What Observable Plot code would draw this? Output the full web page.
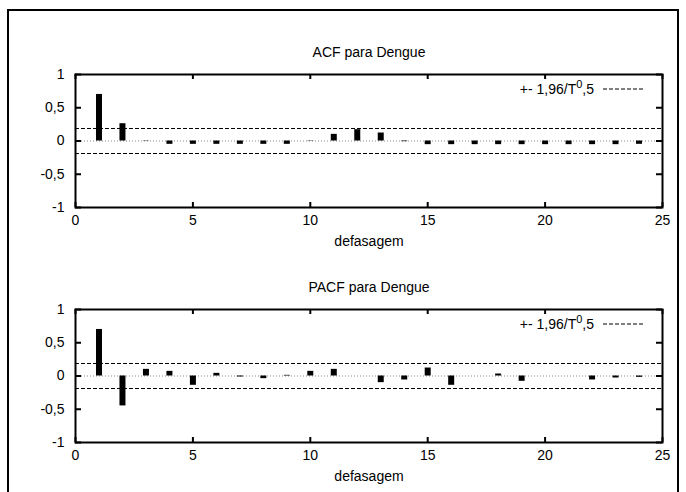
<!DOCTYPE html>
<html>
<head>
<meta charset="utf-8">
<script src="https://cdn.jsdelivr.net/npm/d3@7"></script>
<script src="https://cdn.jsdelivr.net/npm/@observablehq/plot@0.6"></script>
<style>
  html, body { margin: 0; padding: 0; background: #fff; overflow: hidden; }
  #wrap { position: relative; width: 686px; height: 492px; overflow: hidden; background: #fff; }
  #border { position: absolute; left: 7px; top: 9px; width: 672px; height: 520px; border: 2px solid #000; box-sizing: border-box; }
  .panel { position: absolute; left: 0; }
</style>
</head>
<body>
<div id="wrap"><div id="border"></div></div>
<script>
// ---- data ----
const lags = [1,2,3,4,5,6,7,8,9,10,11,12,13,14,15,16,17,18,19,20,21,22,23,24];
const acfValues = [0.70, 0.26, -0.005, -0.05, -0.05, -0.05, -0.05, -0.05, -0.05, 0.005, 0.10, 0.17,
                   0.12, -0.01, -0.055, -0.055, -0.055, -0.055, -0.055, -0.055, -0.055, -0.055, -0.055, -0.05];
const pacfValues = [0.70, -0.45, 0.10, 0.07, -0.14, 0.04, -0.015, -0.04, 0.01, 0.07, 0.10, 0.0,
                    -0.10, -0.06, 0.12, -0.14, 0.0, 0.03, -0.08, 0.0, 0.0, -0.06, -0.03, -0.02];
const confBand = [0.188, -0.188];
const xTicks = [0, 5, 10, 15, 20, 25];
const yTicks = [-1, -0.5, 0, 0.5, 1];
const titles = ["ACF para Dengue", "PACF para Dengue"];
const xLabel = "defasagem";
const legendMain = "+- 1,96/T";
const legendSup = "0";
const legendTail = ",5";

const W = 686, ML = 75, MR = 24, MT = 74, FH = 133;
const FW = W - ML - MR;
const fmt = d => String(d).replace(".", ",");

function panel(title, values, height, top) {
  const data = lags.map((l, i) => ({lag: l, v: values[i]}));
  const svg = Plot.plot({
    width: W, height,
    marginLeft: ML, marginRight: MR, marginTop: MT, marginBottom: height - MT - FH,
    style: {fontFamily: "Liberation Sans, Arial, sans-serif", fontSize: "14px", background: "transparent", color: "#000"},
    x: {domain: [0, 25]},
    y: {domain: [-1, 1]},
    marks: [
      Plot.ruleY([0], {stroke: "#888", strokeDasharray: "1,2", strokeWidth: 1}),
      Plot.ruleY(confBand, {stroke: "#000", strokeDasharray: "4,2", strokeWidth: 1}),
      Plot.ruleX(data, {x: "lag", y1: 0, y2: "v", stroke: "#000", strokeWidth: 6, strokeLinecap: "butt"}),
      Plot.tickX(xTicks, {x: d => d, insetBottom: FH - 5, strokeWidth: 2}),
      Plot.tickX(xTicks, {x: d => d, insetTop: FH - 5, strokeWidth: 2}),
      Plot.tickY(yTicks, {y: d => d, insetRight: FW - 6, strokeWidth: 2}),
      Plot.tickY(yTicks, {y: d => d, insetLeft: FW - 6, strokeWidth: 2}),
      Plot.frame({stroke: "#000", strokeWidth: 2}),
      Plot.axisX({ticks: xTicks, tickSize: 0, tickPadding: 8, tickFormat: fmt, label: null, fontSize: 14}),
      Plot.axisY({ticks: yTicks, tickSize: 0, tickPadding: 11, tickFormat: fmt, label: null, fontSize: 14}),
      Plot.text([title], {frameAnchor: "top", lineAnchor: "middle", dy: -22, fontSize: 14}),
      Plot.text([xLabel], {frameAnchor: "bottom", lineAnchor: "middle", dy: 34, fontSize: 14})
    ]
  });
  // legend
  const g = d3.select(svg).append("g");
  const right = W - MR;
  const ly = MT + 15;
  const t = g.append("text")
    .attr("x", right - 68).attr("y", ly).attr("dy", "0.35em")
    .attr("text-anchor", "end").attr("font-size", 14).attr("fill", "#000");
  t.append("tspan").text(legendMain);
  t.append("tspan").attr("dy", -6).attr("font-size", 11).text(legendSup);
  t.append("tspan").attr("dy", 6).text(legendTail);
  g.append("line")
    .attr("x1", right - 59).attr("x2", right - 18)
    .attr("y1", ly).attr("y2", ly)
    .attr("stroke", "#000").attr("stroke-dasharray", "4,2");
  svg.classList.add("panel");
  svg.style.position = "absolute";
  svg.style.top = top + "px";
  svg.style.left = "0px";
  document.getElementById("wrap").appendChild(svg);
}

panel(titles[0], acfValues, 250, 0);
panel(titles[1], pacfValues, 257, 235);
</script>
</body>
</html>
